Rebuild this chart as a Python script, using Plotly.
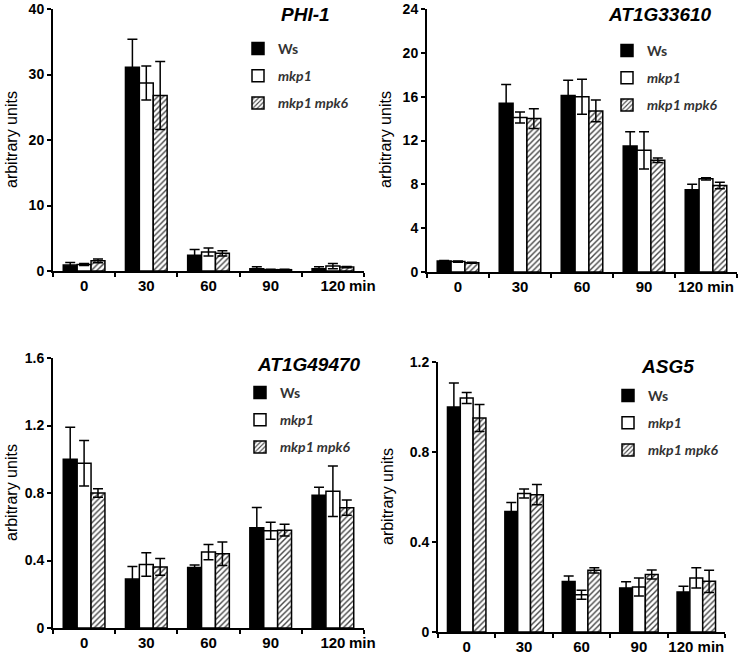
import plotly.graph_objects as go

# ---------------- data ----------------
categories = ["0", "30", "60", "90", "120"]
unit_label = "min"
series_names = ["Ws", "mkp1", "mkp1 mpk6"]
gene_titles = ["PHI-1", "AT1G33610", "AT1G49470", "ASG5"]

phi1_ws = [0.9, 31.1, 2.4, 0.35, 0.35]
phi1_ws_err = [0.4, 4.3, 0.9, 0.3, 0.3]
phi1_mkp1 = [1.0, 28.7, 2.9, 0.2, 0.75]
phi1_mkp1_err = [0.15, 2.6, 0.6, 0.05, 0.4]
phi1_mpk6 = [1.55, 26.8, 2.7, 0.2, 0.6]
phi1_mpk6_err = [0.3, 5.2, 0.4, 0.05, 0.1]

at33610_ws = [1.0, 15.4, 16.1, 11.5, 7.5]
at33610_ws_err = [0.05, 1.7, 1.4, 1.3, 0.5]
at33610_mkp1 = [0.95, 14.1, 16.0, 11.1, 8.5]
at33610_mkp1_err = [0.05, 0.5, 1.6, 1.7, 0.1]
at33610_mpk6 = [0.85, 14.0, 14.7, 10.2, 7.9]
at33610_mpk6_err = [0.05, 0.9, 1.0, 0.2, 0.3]

at49470_ws = [1.0, 0.29, 0.358, 0.594, 0.786]
at49470_ws_err = [0.19, 0.075, 0.015, 0.12, 0.048]
at49470_mkp1 = [0.976, 0.376, 0.45, 0.576, 0.81]
at49470_mkp1_err = [0.135, 0.07, 0.045, 0.05, 0.15]
at49470_mpk6 = [0.80, 0.362, 0.44, 0.58, 0.713]
at49470_mpk6_err = [0.025, 0.05, 0.07, 0.035, 0.045]

asg5_ws = [1.0, 0.536, 0.224, 0.196, 0.178]
asg5_ws_err = [0.107, 0.04, 0.025, 0.027, 0.025]
asg5_mkp1 = [1.04, 0.615, 0.166, 0.2, 0.24]
asg5_mkp1_err = [0.024, 0.02, 0.02, 0.04, 0.045]
asg5_mpk6 = [0.951, 0.61, 0.274, 0.256, 0.225]
asg5_mpk6_err = [0.06, 0.045, 0.012, 0.02, 0.049]

y_ranges = [[0, 40], [0, 24], [0, 1.6], [0, 1.2]]
y_dticks = [10, 4, 0.4, 0.4]

# ---------------- styling / layout ----------------
W, H = 750, 656
def px_x(p):
    return p / W
def px_y(p):
    return 1 - p / H

# pixel boxes: (left, right, top, bottom)
boxes = [(53, 364, 9, 271), (427, 737, 9, 272), (53, 364, 358, 628), (438, 725, 362, 632)]

panels = [
    [(phi1_ws, phi1_ws_err), (phi1_mkp1, phi1_mkp1_err), (phi1_mpk6, phi1_mpk6_err)],
    [(at33610_ws, at33610_ws_err), (at33610_mkp1, at33610_mkp1_err), (at33610_mpk6, at33610_mpk6_err)],
    [(at49470_ws, at49470_ws_err), (at49470_mkp1, at49470_mkp1_err), (at49470_mpk6, at49470_mpk6_err)],
    [(asg5_ws, asg5_ws_err), (asg5_mkp1, asg5_mkp1_err), (asg5_mpk6, asg5_mpk6_err)],
]

legend_names = ["<b>Ws</b>", "<b><i>mkp1</i></b>", "<b><i>mkp1 mpk6</i></b>"]

def marker_for(i):
    if i == 0:
        return dict(color="black", line=dict(color="black", width=1.5))
    if i == 1:
        return dict(color="white", line=dict(color="black", width=1.5))
    return dict(color="white", line=dict(color="black", width=1.5),
                pattern=dict(shape="/", fgcolor="#444444", bgcolor="white", size=4, solidity=0.35))

fig = go.Figure()
for p, series in enumerate(panels):
    ax = "" if p == 0 else str(p + 1)
    leg = "legend" if p == 0 else "legend" + str(p + 1)
    for i, (vals, errs) in enumerate(series):
        fig.add_trace(go.Bar(
            x=categories, y=vals,
            error_y=dict(type="data", array=errs, visible=True, color="black", thickness=1.5, width=5),
            marker=marker_for(i),
            name=legend_names[i],
            legend=leg,
            legendgroup=f"p{p}s{i}",
            xaxis="x" + ax, yaxis="y" + ax,
            showlegend=True,
        ))

layout = dict(
    template="none",
    width=W, height=H,
    margin=dict(l=0, r=0, t=0, b=0, pad=0, autoexpand=False),
    paper_bgcolor="white", plot_bgcolor="white",
    barmode="group", bargap=0.33, bargroupgap=0,
    showlegend=True,
    font=dict(family="Liberation Sans, Arial, sans-serif", color="black"),
)

tick_font_y = dict(family="Liberation Sans, Arial", size=14, color="black", weight="bold")
tick_font_x = dict(family="Liberation Sans, Arial", size=15, color="black", weight="bold")

for p, (l, r, t, b) in enumerate(boxes):
    ax = "" if p == 0 else str(p + 1)
    ticktext = list(categories)
    if p in (1, 3):
        ticktext[-1] = categories[-1] + " " + unit_label
    layout["xaxis" + ax] = dict(
        domain=[px_x(l), px_x(r)], anchor="y" + ax,
        type="category", range=[-0.5, 4.5],
        tickmode="array", tickvals=categories, ticktext=ticktext, tickangle=0,
        tickson="boundaries", ticks="outside", ticklen=4, tickwidth=1.5, tickcolor="black",
        showline=True, linecolor="black", linewidth=2, automargin=False,
        showgrid=False, zeroline=False, tickfont=tick_font_x, fixedrange=True,
    )
    layout["yaxis" + ax] = dict(
        domain=[px_y(b), px_y(t)], anchor="x" + ax,
        range=y_ranges[p], dtick=y_dticks[p], tick0=0,
        ticks="outside", ticklen=4, tickwidth=1.5, tickcolor="black",
        showline=True, linecolor="black", linewidth=2, automargin=False,
        showgrid=False, zeroline=False, tickfont=tick_font_y, fixedrange=True,
    )

legend_pos = [(238, 33), (607, 35), (240, 377), (608, 380)]
for p, (lx, ly) in enumerate(legend_pos):
    key = "legend" if p == 0 else "legend" + str(p + 1)
    layout[key] = dict(
        x=px_x(lx), y=px_y(ly), xanchor="left", yanchor="top",
        bgcolor="rgba(0,0,0,0)", borderwidth=0,
        font=dict(family="Lato, Open Sans, sans-serif", size=14, color="#333333"),
        traceorder="grouped", tracegroupgap=6, itemclick=False,
    )

annotations = []
title_pos = [(305, 15), (660, 15), (309, 364), (667, 366)]
for p, (tx, ty) in enumerate(title_pos):
    annotations.append(dict(
        text="<b><i>" + gene_titles[p] + "</i></b>", x=px_x(tx), y=px_y(ty),
        xref="paper", yref="paper", xanchor="center", yanchor="middle", showarrow=False,
        font=dict(family="Liberation Sans, Arial", size=19, color="black"),
    ))
ylab_pos = [(12, 140), (386, 140), (12, 493), (388, 497)]
for (yx, yy) in ylab_pos:
    annotations.append(dict(
        text="arbitrary units", x=px_x(yx), y=px_y(yy), textangle=-90,
        xref="paper", yref="paper", xanchor="center", yanchor="middle", showarrow=False,
        font=dict(family="Liberation Sans, Arial", size=16, color="black"),
    ))
for (mx, my) in [(362, 285), (362, 642)]:
    annotations.append(dict(
        text="<b>" + unit_label + "</b>", x=px_x(mx), y=px_y(my),
        xref="paper", yref="paper", xanchor="center", yanchor="middle", showarrow=False,
        font=dict(family="Liberation Sans, Arial", size=15, color="black"),
    ))
layout["annotations"] = annotations

fig.update_layout(**layout)
fig.write_html("out.html", config={"displayModeBar": False},
               post_script="document.body.style.margin='0';")
